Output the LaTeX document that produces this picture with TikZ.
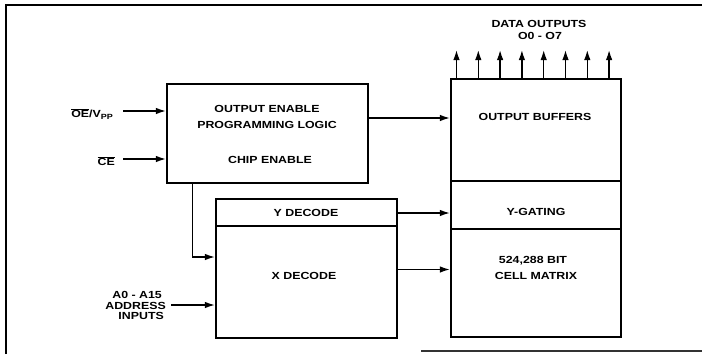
\documentclass[tikz,border=0pt]{standalone}
\usepackage{fontspec}
\setmainfont{Liberation Sans}[FakeStretch=1.2]
\usetikzlibrary{arrows.meta}
\begin{document}
\begin{tikzpicture}[x=1pt,y=-1pt,
  font=\fontsize{10.3}{12}\selectfont\bfseries,
  blk/.style={draw,line width=2.2pt,inner sep=0pt,minimum width=#1},
  lbl/.style={inner sep=0pt,align=center},
  con/.style={line width=1.4pt,-{Latex[length=10pt,width=6.5pt]}},
  frame/.style={line width=2pt}]
\useasboundingbox (0,0) rectangle (702,354);
% frame
\draw[frame] (6,354) -- (6,5) -- (702,5);
\draw[frame,black!80] (421,351) -- (702,351);
% blocks
\node[blk=201pt,minimum height=99pt] (oe) at (267.5,133.5) {};
\node[blk=181pt,minimum height=27pt] (ydec) at (306.5,212.5) {};
\node[blk=181pt,minimum height=112pt] (xdec) at (306.5,282) {};
\node[blk=170pt,minimum height=102pt] (buf) at (536,130) {};
\node[blk=170pt,minimum height=48pt] (ygate) at (536,205) {};
\node[blk=170pt,minimum height=108pt] (cell) at (536,283) {};
% texts
\node[lbl] (t1) at (267,109) {OUTPUT ENABLE};
\node[lbl] (t2) at (267,125) {PROGRAMMING LOGIC};
\node[lbl] (t3) at (270,160) {CHIP ENABLE};
\node[lbl] (ty) at (306,213) {Y DECODE};
\node[lbl] (tx) at (304,276) {X DECODE};
\node[lbl] (tb) at (535,117) {OUTPUT BUFFERS};
\node[lbl] (tg) at (536,212) {Y-GATING};
\node[lbl] (tc1) at (533,261) {524,288 BIT};
\node[lbl] (tc2) at (536,276) {CELL MATRIX};
\node[lbl] (td1) at (539,24) {DATA OUTPUTS};
\node[lbl] (td2) at (540,35.5) {O0 - O7};
\node[lbl,anchor=east] (toe) at (113,114) {$\overline{\mbox{OE}}$/V\raisebox{-1.5pt}{\fontsize{7.5}{8}\selectfont PP}};
\node[lbl,anchor=east] (tce) at (115,161) {$\overline{\mbox{CE}}$};
\node[lbl,anchor=east] (ta1) at (162,295) {A0 - A15};
\node[lbl,anchor=east] (ta2) at (166,305.5) {ADDRESS};
\node[lbl,anchor=east] (ta3) at (164,316) {INPUTS};
% input connectors
\coordinate (oein) at (123,111);
\coordinate (cein) at (123,159);
\coordinate (ain) at (171,305);
\draw[con] (oein) -- (oein -| oe.west);
\draw[con] (cein) -- (cein -| oe.west);
\draw[con] (ain) -- (ain -| xdec.west);
\coordinate (bend) at (192.7,257);
\draw[con] (bend |- oe.south) -- (bend) -- (bend -| xdec.west);
% internal connectors
\coordinate (c1) at (368,118);
\coordinate (c2) at (397,213);
\coordinate (c3) at (397,269.5);
\draw[con] (c1 -| oe.east) -- (c1 -| buf.west);
\draw[con] (c2 -| ydec.east) -- (c2 -| ygate.west);
\draw[con] (c3 -| xdec.east) -- (c3 -| cell.west);
% data outputs
\foreach \i in {0,...,7} {
  \coordinate (o\i) at ({456.5+21.8*\i},50);
  \draw[con] (o\i |- buf.north) -- (o\i);
}
\end{tikzpicture}
\end{document}
